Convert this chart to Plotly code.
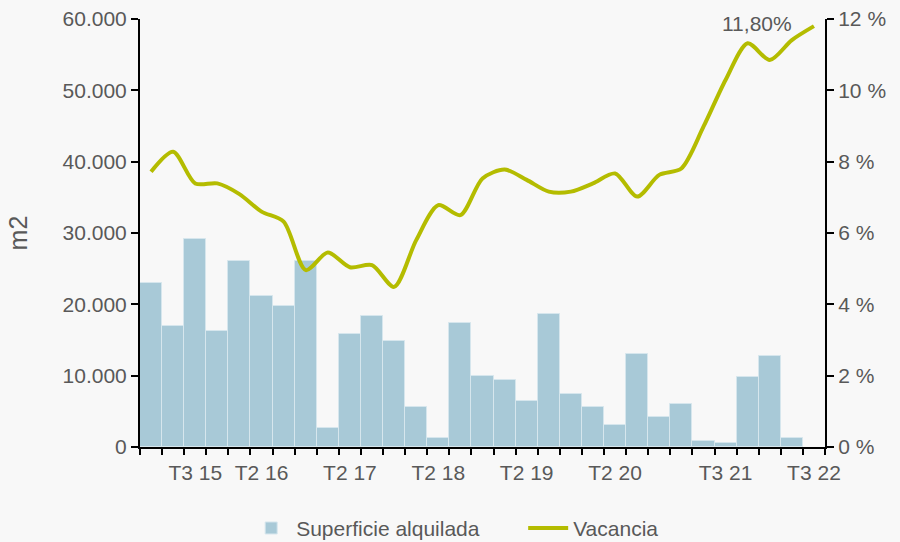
import plotly.graph_objects as go

# quarters T1 15 .. T3 22
quarters = [f"T{q} {y}" for y in range(15, 23) for q in range(1, 5)][:31]
labelled = ["T3 15", "T2 16", "T2 17", "T2 18", "T2 19", "T2 20", "T3 21", "T3 22"]

superficie = [23000, 16900, 29200, 16300, 26100, 21100, 19800, 26100, 2700, 15800,
              18400, 14800, 5600, 1300, 17400, 10000, 9400, 6450, 18650, 7500,
              5600, 3150, 13000, 4250, 6000, 850, 500, 9850, 12800, 1250, None]
vacancia = [7.72, 8.28, 7.39, 7.39, 7.09, 6.6, 6.32, 4.96, 5.45, 5.04,
            5.1, 4.49, 5.8, 6.78, 6.5, 7.53, 7.78, 7.49, 7.16, 7.16,
            7.39, 7.67, 7.02, 7.63, 7.81, 8.98, 10.29, 11.32, 10.85, 11.41, 11.8]

GREY = "#595959"
BG = "#f8f8f8"
FONT = "Liberation Sans, Arial, sans-serif"

fig = go.Figure()
fig.add_trace(go.Bar(
    x=quarters, y=superficie, name="Superficie alquilada",
    marker={"color": "#a8c9d7", "line": {"color": "#d6e6ed", "width": 1}},
))
fig.add_trace(go.Scatter(
    x=quarters, y=vacancia, name="Vacancia", yaxis="y2", mode="lines",
    line={"color": "#b4bc00", "width": 4, "shape": "spline", "smoothing": 0.8},
))

fig.add_annotation(
    x=quarters[-1], y=vacancia[-1], yref="y2", text="11,80%", showarrow=False,
    xanchor="right", yanchor="middle", xshift=-20, yshift=3,
    font={"size": 21, "color": GREY},
)

fig.update_layout(
    width=900, height=542,
    margin={"l": 140, "r": 75, "t": 19, "b": 95, "autoexpand": False},
    paper_bgcolor=BG, plot_bgcolor=BG,
    bargap=0,
    separators=",.",
    font={"family": FONT, "size": 21, "color": GREY},
    xaxis={
        "type": "category", "automargin": False,
        "tickmode": "array", "tickvals": quarters,
        "ticktext": [q if q in labelled else "" for q in quarters],
        "tickangle": 0,
        "tickson": "boundaries", "ticks": "outside", "ticklen": 6,
        "tickwidth": 2, "tickcolor": "black",
        "showline": True, "linecolor": "black", "linewidth": 2,
        "showgrid": False, "ticklabelstandoff": 6,
        "range": [-0.5, 30.5],
    },
    yaxis={
        "automargin": False,
        "range": [0, 60000], "dtick": 10000, "tickformat": ",d",
        "ticks": "outside", "ticklen": 7, "tickwidth": 2, "tickcolor": "black",
        "showline": True, "linecolor": "black", "linewidth": 2,
        "showgrid": False, "zeroline": False,
        "title": {"text": "m2", "standoff": 28},
    },
    yaxis2={
        "automargin": False,
        "overlaying": "y", "side": "right",
        "range": [0, 12], "dtick": 2, "ticksuffix": " %",
        "ticks": "outside", "ticklen": 7, "tickwidth": 2, "tickcolor": "black",
        "showline": True, "linecolor": "black", "linewidth": 2,
        "showgrid": False, "zeroline": False,
    },
    legend={
        "orientation": "h", "x": 0.155, "xanchor": "left", "y": -0.19, "yanchor": "middle",
        "itemwidth": 40, "entrywidth": 222, "entrywidthmode": "pixels",
    },
)

fig.write_html("out.html", config={"displayModeBar": False},
               post_script="document.body.style.margin='0';")
